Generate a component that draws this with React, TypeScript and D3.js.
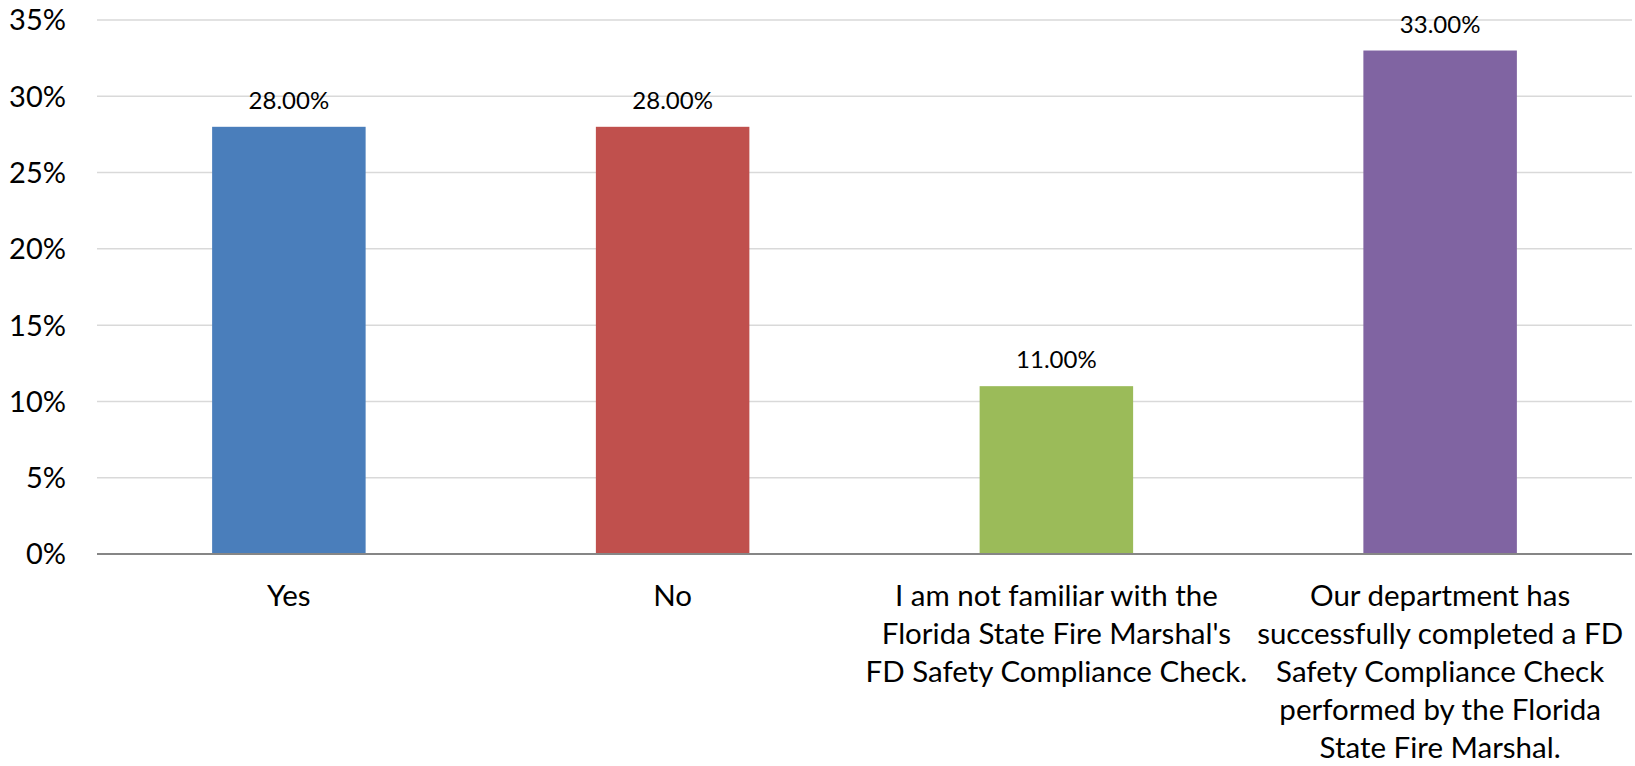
import React from "react";
import * as d3 from "d3";

const categories: string[] = [
  "Yes",
  "No",
  "I am not familiar with the Florida State Fire Marshal's FD Safety Compliance Check.",
  "Our department has successfully completed a FD Safety Compliance Check performed by the Florida State Fire Marshal.",
];
const categoryLines: string[][] = [
  ["Yes"],
  ["No"],
  ["I am not familiar with the", "Florida State Fire Marshal's", "FD Safety Compliance Check."],
  [
    "Our department has",
    "successfully completed a FD",
    "Safety Compliance Check",
    "performed by the Florida",
    "State Fire Marshal.",
  ],
];
const values: number[] = [28, 28, 11, 33];
const colors: string[] = ["#4a7ebb", "#c0504d", "#9bbb59", "#8064a2"];
const yTicks: number[] = [0, 5, 10, 15, 20, 25, 30, 35];

const W = 1635;
const H = 766;
const left = 97;
const right = 1632;
const top = 20;
const bottom = 554;
const FONT = "Lato, 'Open Sans', sans-serif";

export default function App() {
  const x = d3.scaleBand<number>().domain(d3.range(categories.length)).range([left, right]).padding(0);
  const y = d3.scaleLinear().domain([0, 35]).range([bottom, top]);
  const barW = x.bandwidth() * 0.4;

  return (
    <svg
      width={W}
      height={H}
      style={{ position: "absolute", left: 0, top: 0, background: "#fff" }}
      fontFamily={FONT}
    >
      {yTicks.map((t) =>
        t === 0 ? null : (
          <line key={"g" + t} x1={left} x2={right} y1={y(t)} y2={y(t)} stroke="#d9d9d9" strokeWidth={1.5} />
        )
      )}
      {yTicks.map((t) => (
        <text key={"t" + t} x={66} y={y(t)} dy="0.36em" textAnchor="end" fontSize={29} fill="#000">
          {t + "%"}
        </text>
      ))}
      {values.map((v, i) => {
        const cx = (x(i) as number) + x.bandwidth() / 2;
        return (
          <g key={"b" + i}>
            <rect x={cx - barW / 2} y={y(v)} width={barW} height={y(0) - y(v)} fill={colors[i]} />
            <text x={cx} y={y(v) - 18} textAnchor="middle" fontSize={24} fill="#000">
              {v.toFixed(2) + "%"}
            </text>
          </g>
        );
      })}
      <line x1={left} x2={right} y1={y(0)} y2={y(0)} stroke="#868686" strokeWidth={2} />
      {categoryLines.map((lines, i) => {
        const cx = (x(i) as number) + x.bandwidth() / 2;
        return (
          <text key={"c" + i} textAnchor="middle" fontSize={29.5} fill="#000">
            {lines.map((l, j) => (
              <tspan key={j} x={cx} y={595 + j * 38} dy="0.36em">
                {l}
              </tspan>
            ))}
          </text>
        );
      })}
    </svg>
  );
}
